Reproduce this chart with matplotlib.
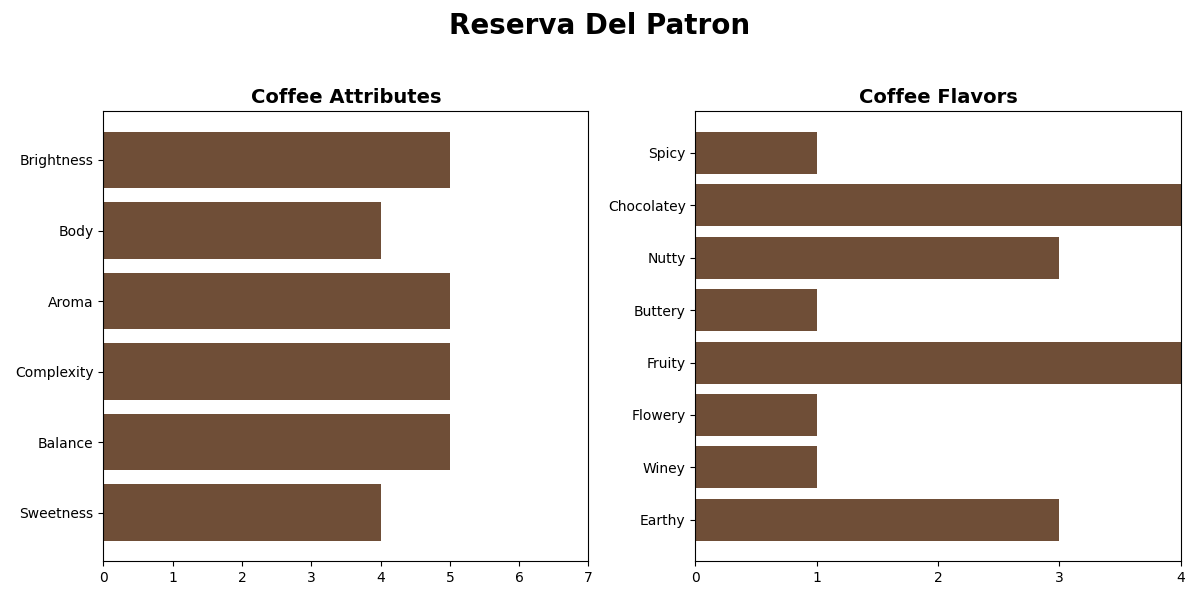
import matplotlib
matplotlib.use("Agg")
import matplotlib.pyplot as plt

title = "Reserva Del Patron"
attributes = ["Brightness", "Body", "Aroma", "Complexity", "Balance", "Sweetness"]
attribute_scores = [5, 4, 5, 5, 5, 4]
flavors = ["Spicy", "Chocolatey", "Nutty", "Buttery", "Fruity", "Flowery", "Winey", "Earthy"]
flavor_scores = [1, 4, 3, 1, 4, 1, 1, 3]

color = "#6F4E37"

fig, (ax1, ax2) = plt.subplots(1, 2, figsize=(12, 6), dpi=100)
fig.suptitle(title, fontsize=20, fontweight="bold")

ax1.barh(attributes, attribute_scores, color=color)
ax1.invert_yaxis()
ax1.set_xlim(0, 7)
ax1.set_title("Coffee Attributes", fontsize=14, fontweight="bold")

ax2.barh(flavors, flavor_scores, color=color)
ax2.invert_yaxis()
ax2.set_xlim(0, 4)
ax2.set_xticks([0, 1, 2, 3, 4])
ax2.set_title("Coffee Flavors", fontsize=14, fontweight="bold")

fig.tight_layout(rect=[0, 0, 1, 0.95])
fig.savefig("out.png")
